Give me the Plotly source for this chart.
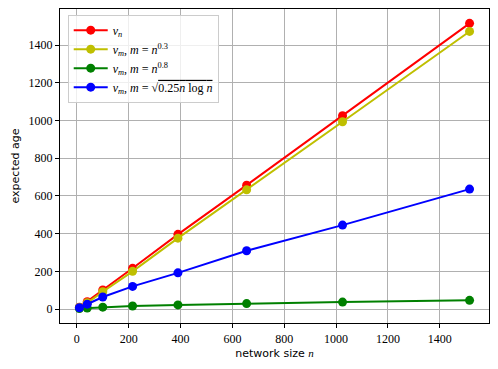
import plotly.graph_objects as go

# network sizes and expected ages
n_vals = [10, 40, 100, 215, 390, 655, 1025, 1515]
v_n = [10, 39, 101, 216, 396, 657, 1025, 1515]
v_m_03 = [8, 33, 92, 200, 376, 632, 993, 1472]
v_m_08 = [3, 5, 10, 16, 22, 29, 37, 46]
v_m_sqrt = [7, 26, 64, 120, 192, 309, 445, 636]
ticks = [0, 200, 400, 600, 800, 1000, 1200, 1400]

series = [
    ("<i>v<sub>n</sub></i>", v_n, "#ff0000"),
    ("<i>v<sub>m</sub></i>, <i>m</i> = <i>n</i><sup>0.3</sup>", v_m_03, "#bfbf00"),
    ("<i>v<sub>m</sub></i>, <i>m</i> = <i>n</i><sup>0.8</sup>", v_m_08, "#008000"),
    ("<i>v<sub>m</sub></i>, <i>m</i> = √<span style=\"text-decoration:overline\">0.25<i>n</i> log <i>n</i></span>",
     v_m_sqrt, "#0000ff"),
]

fig = go.Figure()
for name, vals, col in series:
    fig.add_trace(go.Scatter(
        x=n_vals, y=vals, name=name, mode="lines+markers",
        line=dict(color=col, width=2),
        marker=dict(color=col, size=9),
    ))

serif = "Liberation Serif"
sans = "DejaVu Sans"
axis_common = dict(
    showgrid=True, gridcolor="#b0b0b0", gridwidth=1,
    showline=True, linecolor="black", linewidth=1.2, mirror=True,
    ticks="outside", ticklen=4, tickcolor="black",
    tickfont=dict(family=serif, size=12, color="black"),
    zeroline=False, automargin=False,
)

fig.update_layout(
    width=498, height=369,
    margin=dict(l=60, r=9, t=9, b=46, autoexpand=False),
    paper_bgcolor="white", plot_bgcolor="white",
    font=dict(family=serif, size=12, color="black"),
    xaxis=dict(range=[-65, 1590], tickvals=ticks,
               title=dict(text="network size <i style=\"font-family:Liberation Serif\">n</i>",
                          font=dict(family=sans, size=11), standoff=4),
               **axis_common),
    yaxis=dict(range=[-74, 1591], tickvals=ticks,
               title=dict(text="expected age", font=dict(family=sans, size=11), standoff=6),
               **axis_common),
    legend=dict(x=0.018, y=0.982, xanchor="left", yanchor="top",
                bgcolor="rgba(255,255,255,0.8)", bordercolor="#cccccc", borderwidth=1,
                font=dict(family=serif, size=12), itemwidth=34, tracegroupgap=0),
    showlegend=True,
)

fig.write_html("out.html", config={"displayModeBar": False},
               post_script="document.body.style.margin='0';")
